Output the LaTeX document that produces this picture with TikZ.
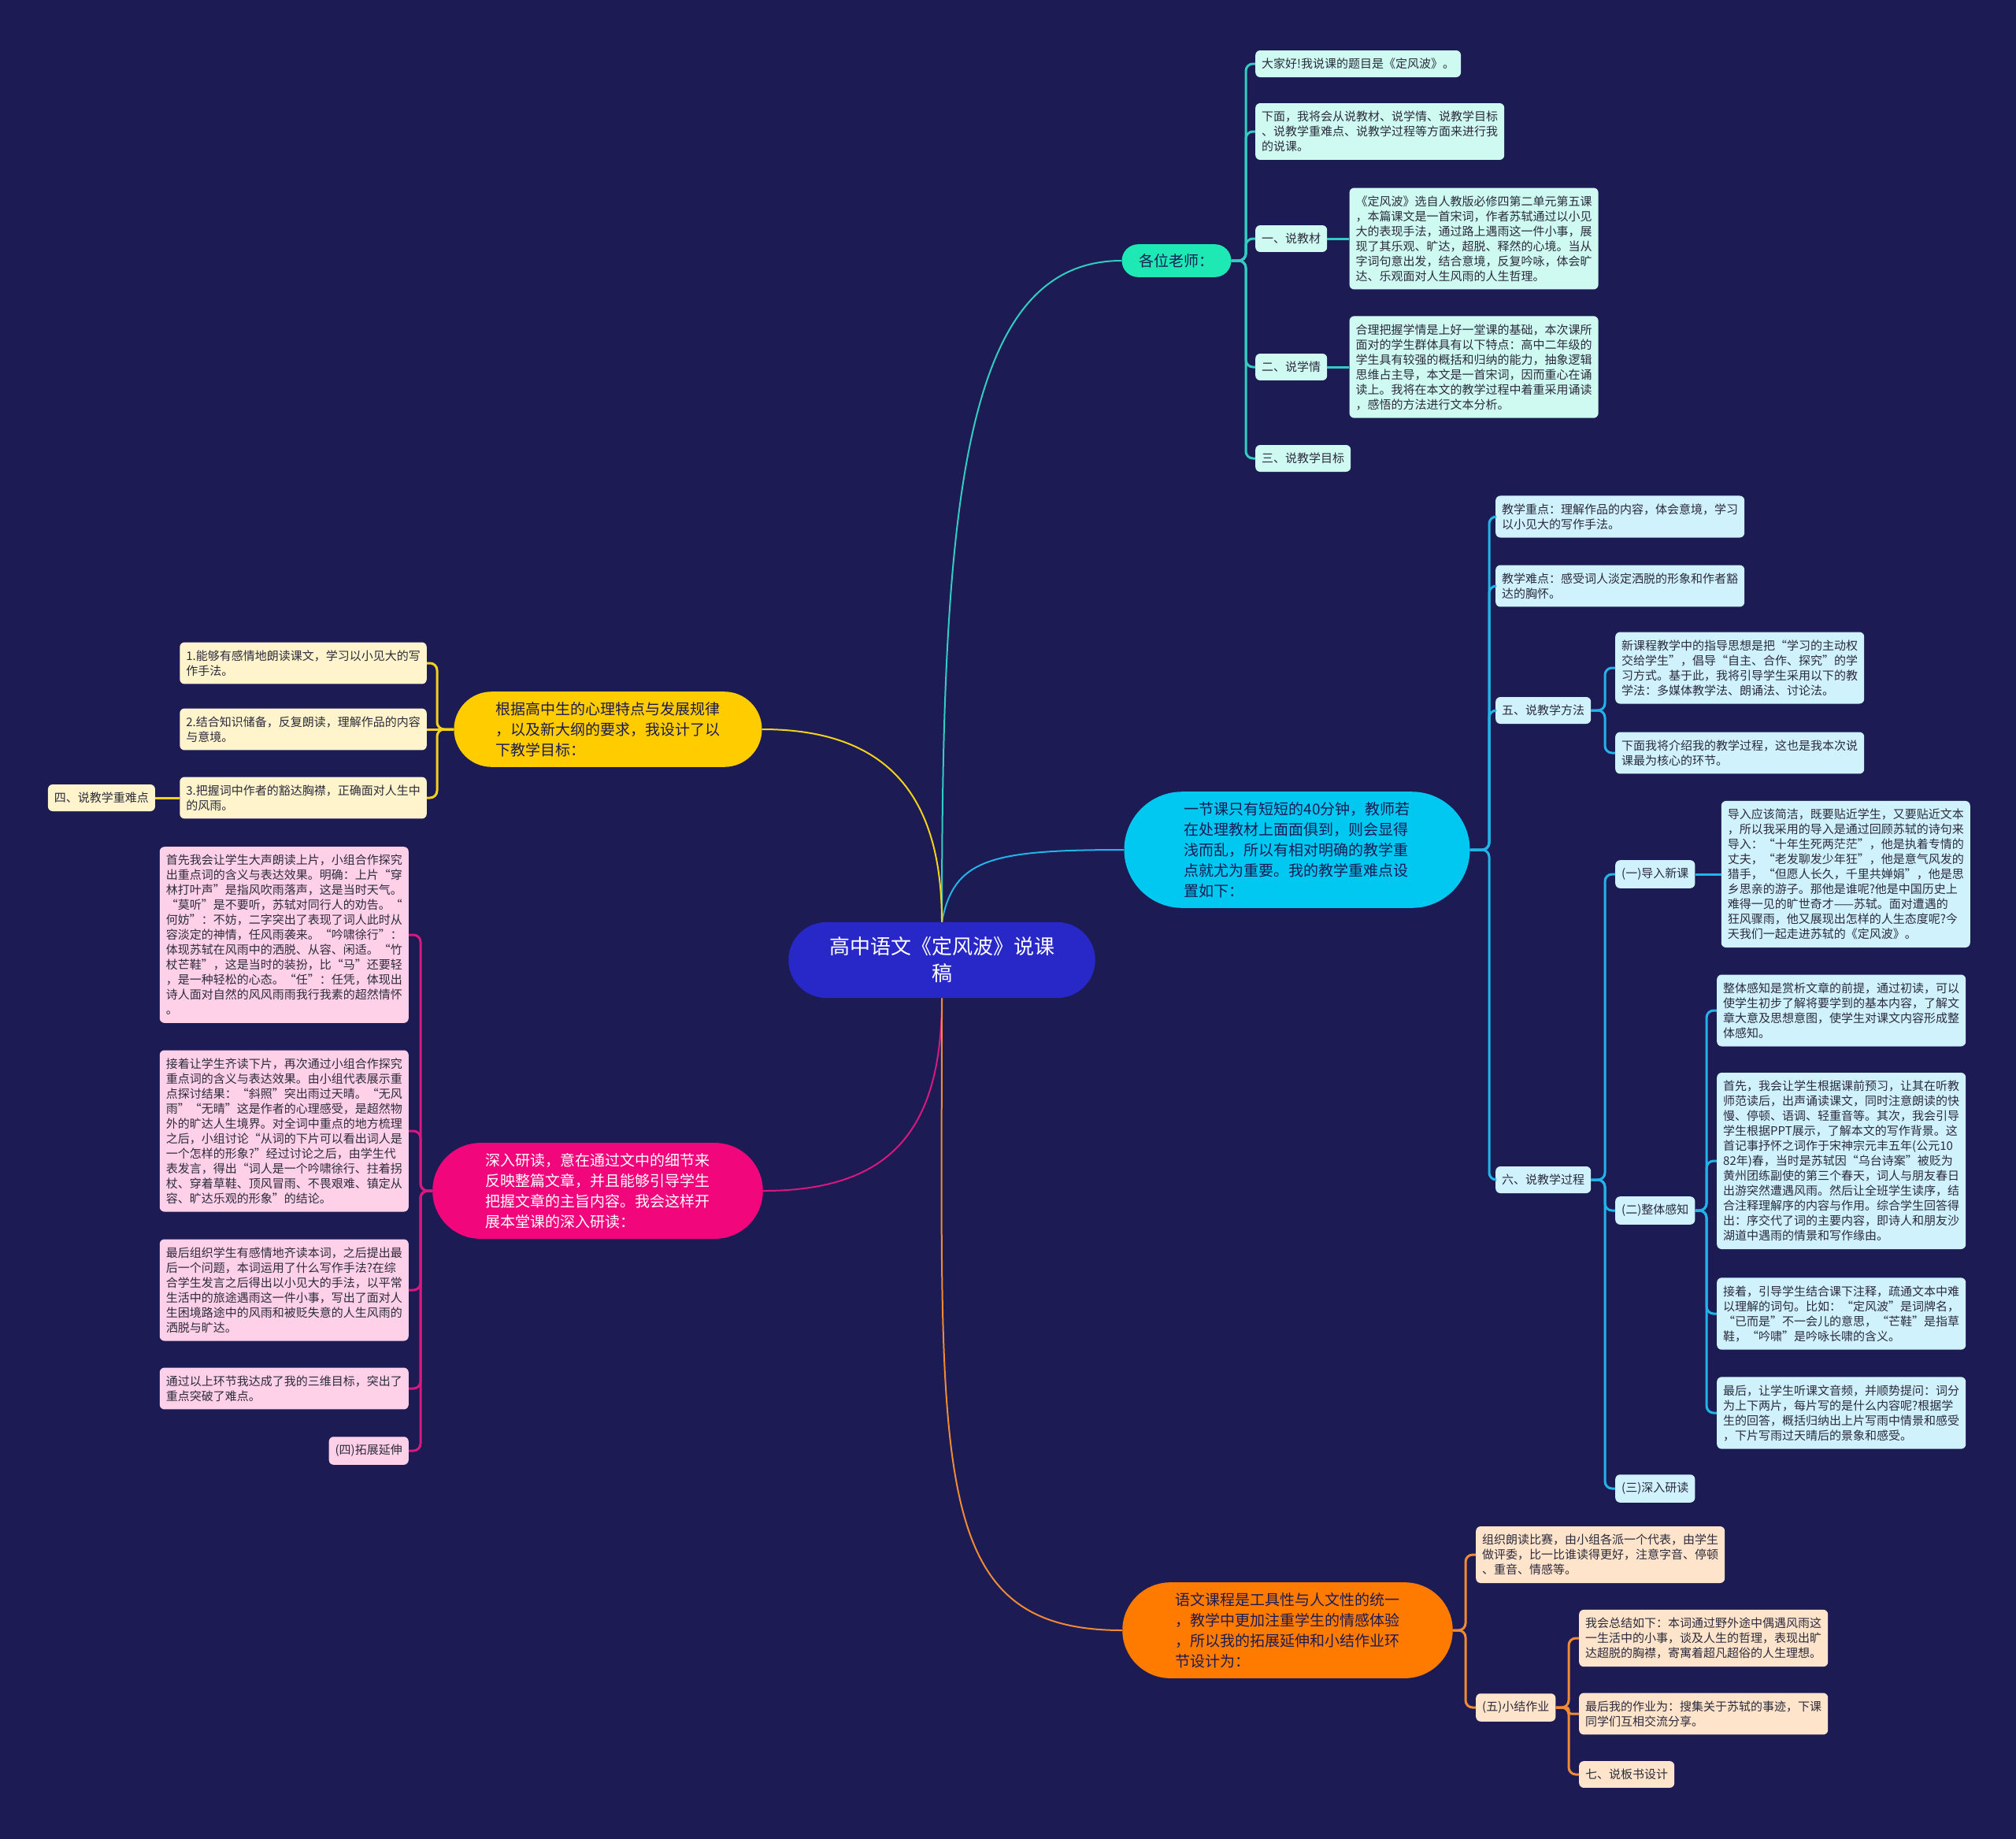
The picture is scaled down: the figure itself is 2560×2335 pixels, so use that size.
\documentclass[tikz,border=0pt]{standalone}
\usepackage{fontspec}
\setmainfont{Noto Sans CJK SC}
\usetikzlibrary{positioning,shapes.misc}
\definecolor{dfbBg}{HTML}{1C1B54}
\definecolor{dfbInk}{HTML}{2B2B3C}
\definecolor{dfbRoot}{HTML}{2828C8}
\definecolor{dfbTeal}{HTML}{1EE8B4}
\definecolor{dfbTealLn}{HTML}{33CCC0}
\definecolor{dfbTealPale}{HTML}{CFFAF1}
\definecolor{dfbCyan}{HTML}{00C8F0}
\definecolor{dfbCyanLn}{HTML}{22B4E8}
\definecolor{dfbCyanPale}{HTML}{D0F2FC}
\definecolor{dfbYellow}{HTML}{FFCC00}
\definecolor{dfbYellowLn}{HTML}{F2D21A}
\definecolor{dfbYellowPale}{HTML}{FFF4CC}
\definecolor{dfbPink}{HTML}{F2067C}
\definecolor{dfbPinkLn}{HTML}{D8187E}
\definecolor{dfbPinkPale}{HTML}{FFD1E8}
\definecolor{dfbOrange}{HTML}{FF7B00}
\definecolor{dfbOrangeLn}{HTML}{F08A35}
\definecolor{dfbOrangePale}{HTML}{FFE4CC}

\begin{document}
\begin{tikzpicture}[x=1pt, y=-1pt,
    hub/.style={rounded rectangle, font=\fontsize{19}{26}\selectfont, align=left,
      inner xsep=44pt, inner ysep=13pt, text=dfbBg},
    leaf/.style={rounded corners=6pt, font=\fontsize{15}{19}\selectfont, text=dfbInk,
      align=left, inner xsep=8pt, inner ysep=10pt},
    lt/.style={leaf, fill=dfbTealPale, anchor=west},
    lc/.style={leaf, fill=dfbCyanPale, anchor=west},
    ly/.style={leaf, fill=dfbYellowPale, anchor=east},
    lp/.style={leaf, fill=dfbPinkPale, anchor=east},
    lo/.style={leaf, fill=dfbOrangePale, anchor=west},
    limb/.style={line width=2pt},
    tie/.style={line width=3pt, rounded corners=9pt}]
  \fill[dfbBg] (0,0) rectangle (2560,2335);

  % centre and first level
  \node[hub, fill=dfbRoot, text=white, align=center, font=\fontsize{26}{34}\selectfont,
    inner xsep=42pt, inner ysep=19pt] (root) at (1196,1219) {高中语文《定风波》说课\\稿};
  \node[hub, fill=dfbTeal, inner ysep=12pt, inner xsep=20pt] (hi) at (1494,331) {各位老师：};
  \node[hub, fill=dfbCyan] (key) at (1647,1079) {一节课只有短短的40分钟，教师若\\在处理教材上面面俱到，则会显得\\浅而乱，所以有相对明确的教学重\\点就尤为重要。我的教学重难点设\\置如下：};
  \node[hub, fill=dfbYellow, inner xsep=38pt] (aim) at (772,926) {根据高中生的心理特点与发展规律\\，以及新大纲的要求，我设计了以\\下教学目标：};
  \node[hub, fill=dfbPink, text=white] (deep) at (759,1512) {深入研读，意在通过文中的细节来\\反映整篇文章，并且能够引导学生\\把握文章的主旨内容。我会这样开\\展本堂课的深入研读：};
  \node[hub, fill=dfbOrange] (ext) at (1635,2070) {语文课程是工具性与人文性的统一\\，教学中更加注重学生的情感体验\\，所以我的拓展延伸和小结作业环\\节设计为：};

  \draw[limb, dfbTealLn] (root.north) .. controls +(0,-540) and +(-200,0) .. (hi.west);
  \draw[limb, dfbCyanLn] (root.north) .. controls +(15,-80) and +(-170,0) .. (key.west);
  \draw[limb, dfbYellowLn] (root.north) .. controls +(0,-160) and +(160,0) .. (aim.east);
  \draw[limb, dfbPinkLn] (root.south) .. controls +(0,170) and +(160,0) .. (deep.east);
  \draw[limb, dfbOrangeLn] (root.south) .. controls +(0,600) and +(-250,0) .. (ext.west);

  % teal branch
  \node[lt] (hi1) at (1594,81) {大家好!我说课的题目是《定风波》。};
  \node[lt] (hi2) at (1594,167) {下面，我将会从说教材、说学情、说教学目标\\、说教学重难点、说教学过程等方面来进行我\\的说课。};
  \node[lt] (hi3) at (1594,303) {一、说教材};
  \node[lt, right=28pt of hi3] (hi3a) {《定风波》选自人教版必修四第二单元第五课\\，本篇课文是一首宋词，作者苏轼通过以小见\\大的表现手法，通过路上遇雨这一件小事，展\\现了其乐观、旷达，超脱、释然的心境。当从\\字词句意出发，结合意境，反复吟咏，体会旷\\达、乐观面对人生风雨的人生哲理。};
  \node[lt] (hi4) at (1594,466) {二、说学情};
  \node[lt, right=28pt of hi4] (hi4a) {合理把握学情是上好一堂课的基础，本次课所\\面对的学生群体具有以下特点：高中二年级的\\学生具有较强的概括和归纳的能力，抽象逻辑\\思维占主导，本文是一首宋词，因而重心在诵\\读上。我将在本文的教学过程中着重采用诵读\\，感悟的方法进行文本分析。};
  \node[lt] (hi5) at (1594,582) {三、说教学目标};
  \coordinate (hiS) at (1582,331);
  \draw[tie, dfbTealLn] (hi.east) -- (hiS) |- (hi1.west);
  \draw[tie, dfbTealLn] (hi.east) -- (hiS) |- (hi2.west);
  \draw[tie, dfbTealLn] (hi.east) -- (hiS) |- (hi3.west);
  \draw[tie, dfbTealLn] (hi.east) -- (hiS) |- (hi4.west);
  \draw[tie, dfbTealLn] (hi.east) -- (hiS) |- (hi5.west);
  \draw[tie, dfbTealLn] (hi3.east) -- (hi3a.west);
  \draw[tie, dfbTealLn] (hi4.east) -- (hi4a.west);

  % cyan branch
  \node[lc] (key1) at (1899,656) {教学重点：理解作品的内容，体会意境，学习\\以小见大的写作手法。};
  \node[lc] (key2) at (1899,744) {教学难点：感受词人淡定洒脱的形象和作者豁\\达的胸怀。};
  \node[lc] (met) at (1899,902) {五、说教学方法};
  \node[lc] (met1) at (2051,848) {新课程教学中的指导思想是把“学习的主动权\\交给学生”，倡导“自主、合作、探究”的学\\习方式。基于此，我将引导学生采用以下的教\\学法：多媒体教学法、朗诵法、讨论法。};
  \node[lc] (met2) at (2051,956) {下面我将介绍我的教学过程，这也是我本次说\\课最为核心的环节。};
  \node[lc] (pro) at (1899,1498) {六、说教学过程};
  \node[lc] (pro1) at (2051,1110) {(一)导入新课};
  \node[lc, right=33pt of pro1] (pro1a) {导入应该简洁，既要贴近学生，又要贴近文本\\，所以我采用的导入是通过回顾苏轼的诗句来\\导入：“十年生死两茫茫”，他是执着专情的\\丈夫，“老发聊发少年狂”，他是意气风发的\\猎手，“但愿人长久，千里共婵娟”，他是思\\乡思亲的游子。那他是谁呢?他是中国历史上\\难得一见的旷世奇才——苏轼。面对遭遇的\\狂风骤雨，他又展现出怎样的人生态度呢?今\\天我们一起走进苏轼的《定风波》。};
  \node[lc] (pro2) at (2051,1537) {(二)整体感知};
  \node[lc] (pro2a) at (2180,1283) {整体感知是赏析文章的前提，通过初读，可以\\使学生初步了解将要学到的基本内容，了解文\\章大意及思想意图，使学生对课文内容形成整\\体感知。};
  \node[lc] (pro2b) at (2180,1474) {首先，我会让学生根据课前预习，让其在听教\\师范读后，出声诵读课文，同时注意朗读的快\\慢、停顿、语调、轻重音等。其次，我会引导\\学生根据PPT展示，了解本文的写作背景。这\\首记事抒怀之词作于宋神宗元丰五年(公元10\\82年)春，当时是苏轼因“乌台诗案”被贬为\\黄州团练副使的第三个春天，词人与朋友春日\\出游突然遭遇风雨。然后让全班学生读序，结\\合注释理解序的内容与作用。综合学生回答得\\出：序交代了词的主要内容，即诗人和朋友沙\\湖道中遇雨的情景和写作缘由。};
  \node[lc] (pro2c) at (2180,1668) {接着，引导学生结合课下注释，疏通文本中难\\以理解的词句。比如：“定风波”是词牌名，\\“已而是”不一会儿的意思，“芒鞋”是指草\\鞋，“吟啸”是吟咏长啸的含义。};
  \node[lc] (pro2d) at (2180,1794) {最后，让学生听课文音频，并顺势提问：词分\\为上下两片，每片写的是什么内容呢?根据学\\生的回答，概括归纳出上片写雨中情景和感受\\，下片写雨过天晴后的景象和感受。};
  \node[lc] (pro3) at (2051,1890) {(三)深入研读};
  \coordinate (keyS) at (1891,1079);
  \coordinate (metS) at (2038,902);
  \coordinate (proS) at (2038,1498);
  \coordinate (pro2S) at (2167,1537);
  \draw[tie, dfbCyanLn] (key.east) -- (keyS) |- (key1.west);
  \draw[tie, dfbCyanLn] (key.east) -- (keyS) |- (key2.west);
  \draw[tie, dfbCyanLn] (key.east) -- (keyS) |- (met.west);
  \draw[tie, dfbCyanLn] (key.east) -- (keyS) |- (pro.west);
  \draw[tie, dfbCyanLn] (met.east) -- (metS) |- (met1.west);
  \draw[tie, dfbCyanLn] (met.east) -- (metS) |- (met2.west);
  \draw[tie, dfbCyanLn] (pro.east) -- (proS) |- (pro1.west);
  \draw[tie, dfbCyanLn] (pro.east) -- (proS) |- (pro2.west);
  \draw[tie, dfbCyanLn] (pro.east) -- (proS) |- (pro3.west);
  \draw[tie, dfbCyanLn] (pro1.east) -- (pro1a.west);
  \draw[tie, dfbCyanLn] (pro2.east) -- (pro2S) |- (pro2a.west);
  \draw[tie, dfbCyanLn] (pro2.east) -- (pro2S) |- (pro2b.west);
  \draw[tie, dfbCyanLn] (pro2.east) -- (pro2S) |- (pro2c.west);
  \draw[tie, dfbCyanLn] (pro2.east) -- (pro2S) |- (pro2d.west);

  % yellow branch
  \node[ly] (aim1) at (542,842) {1.能够有感情地朗读课文，学习以小见大的写\\作手法。};
  \node[ly] (aim2) at (542,926) {2.结合知识储备，反复朗读，理解作品的内容\\与意境。};
  \node[ly] (aim3) at (542,1013) {3.把握词中作者的豁达胸襟，正确面对人生中\\的风雨。};
  \node[ly, left=31pt of aim3] (aim3a) {四、说教学重难点};
  \coordinate (aimS) at (555,926);
  \draw[tie, dfbYellowLn] (aim.west) -- (aimS) |- (aim1.east);
  \draw[tie, dfbYellowLn] (aim.west) -- (aim2.east);
  \draw[tie, dfbYellowLn] (aim.west) -- (aimS) |- (aim3.east);
  \draw[tie, dfbYellowLn] (aim3.west) -- (aim3a.east);

  % pink branch
  \node[lp] (deep1) at (519,1187) {首先我会让学生大声朗读上片，小组合作探究\\出重点词的含义与表达效果。明确：上片“穿\\林打叶声”是指风吹雨落声，这是当时天气。\\“莫听”是不要听，苏轼对同行人的劝告。“\\何妨”：不妨，二字突出了表现了词人此时从\\容淡定的神情，任风雨袭来。“吟啸徐行”：\\体现苏轼在风雨中的洒脱、从容、闲适。“竹\\杖芒鞋”，这是当时的装扮，比“马”还要轻\\，是一种轻松的心态。“任”：任凭，体现出\\诗人面对自然的风风雨雨我行我素的超然情怀\\。};
  \node[lp] (deep2) at (519,1436) {接着让学生齐读下片，再次通过小组合作探究\\重点词的含义与表达效果。由小组代表展示重\\点探讨结果：“斜照”突出雨过天晴。“无风\\雨”“无晴”这是作者的心理感受，是超然物\\外的旷达人生境界。对全词中重点的地方梳理\\之后，小组讨论“从词的下片可以看出词人是\\一个怎样的形象?”经过讨论之后，由学生代\\表发言，得出“词人是一个吟啸徐行、拄着拐\\杖、穿着草鞋、顶风冒雨、不畏艰难、镇定从\\容、旷达乐观的形象”的结论。};
  \node[lp] (deep3) at (519,1638) {最后组织学生有感情地齐读本词，之后提出最\\后一个问题，本词运用了什么写作手法?在综\\合学生发言之后得出以小见大的手法，以平常\\生活中的旅途遇雨这一件小事，写出了面对人\\生困境路途中的风雨和被贬失意的人生风雨的\\洒脱与旷达。};
  \node[lp] (deep4) at (519,1763) {通过以上环节我达成了我的三维目标，突出了\\重点突破了难点。};
  \node[lp] (deep5) at (519,1842) {(四)拓展延伸};
  \coordinate (deepS) at (534,1512);
  \draw[tie, dfbPinkLn] (deep.west) -- (deepS) |- (deep1.east);
  \draw[tie, dfbPinkLn] (deep.west) -- (deepS) |- (deep2.east);
  \draw[tie, dfbPinkLn] (deep.west) -- (deepS) |- (deep3.east);
  \draw[tie, dfbPinkLn] (deep.west) -- (deepS) |- (deep4.east);
  \draw[tie, dfbPinkLn] (deep.west) -- (deepS) |- (deep5.east);

  % orange branch
  \node[lo] (ext1) at (1874,1974) {组织朗读比赛，由小组各派一个代表，由学生\\做评委，比一比谁读得更好，注意字音、停顿\\、重音、情感等。};
  \node[lo] (ext2) at (1874,2168) {(五)小结作业};
  \node[lo] (ext2a) at (2005,2080) {我会总结如下：本词通过野外途中偶遇风雨这\\一生活中的小事，谈及人生的哲理，表现出旷\\达超脱的胸襟，寄寓着超凡超俗的人生理想。};
  \node[lo] (ext2b) at (2005,2176) {最后我的作业为：搜集关于苏轼的事迹，下课\\同学们互相交流分享。};
  \node[lo] (ext2c) at (2005,2253) {七、说板书设计};
  \coordinate (extS) at (1861,2070);
  \coordinate (ext2S) at (1992,2168);
  \draw[tie, dfbOrangeLn] (ext.east) -- (extS) |- (ext1.west);
  \draw[tie, dfbOrangeLn] (ext.east) -- (extS) |- (ext2.west);
  \draw[tie, dfbOrangeLn] (ext2.east) -- (ext2S) |- (ext2a.west);
  \draw[tie, dfbOrangeLn, rounded corners=3pt] (ext2.east) -- (ext2S) |- (ext2b.west);
  \draw[tie, dfbOrangeLn] (ext2.east) -- (ext2S) |- (ext2c.west);
\end{tikzpicture}
\end{document}
